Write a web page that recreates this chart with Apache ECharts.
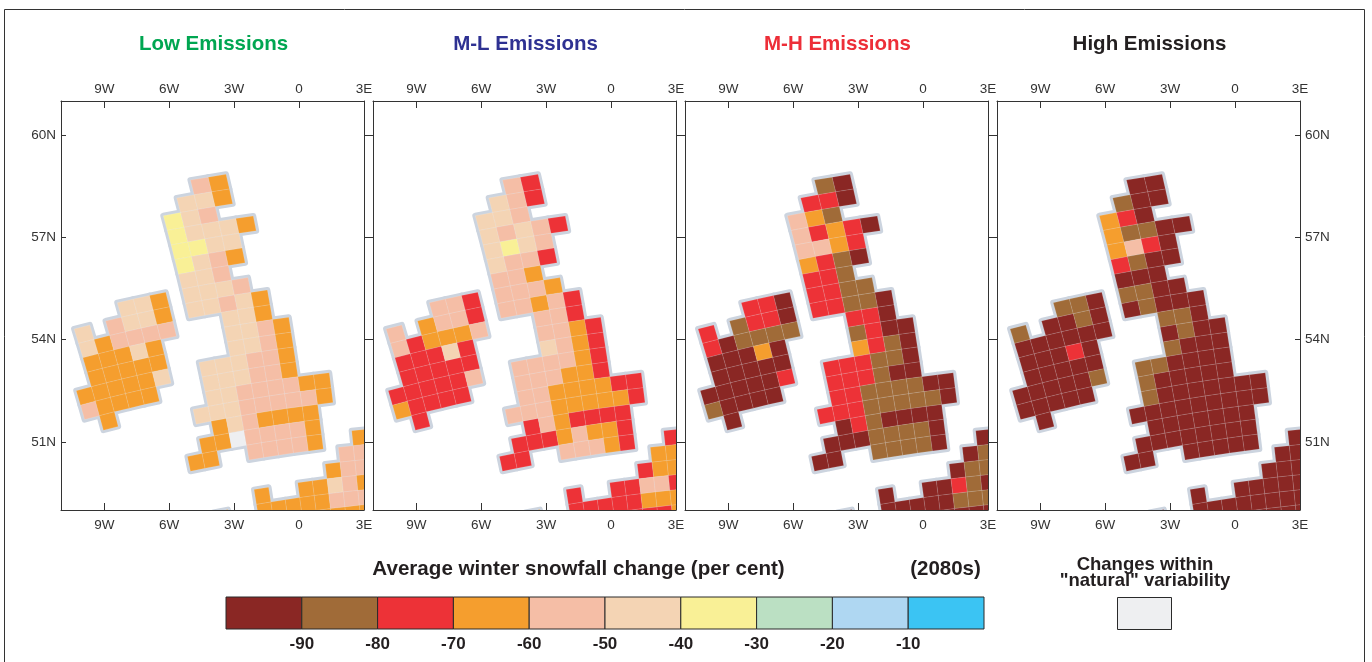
<!DOCTYPE html>
<html><head><meta charset="utf-8">
<style>html,body{margin:0;padding:0;background:#fff}#c{width:1372px;height:662px}</style>
<script src="https://cdn.jsdelivr.net/npm/echarts@6/dist/echarts.min.js"></script>
</head><body><div id="c"></div>
<script>
// Percent-change bins, named by the colour they take in the key (bin mid-values)
const M=-95,B=-85,R=-75,O=-65,P=-55,K=-45,Y=-35,N=0,_=null;
const binEdges=[-100,-90,-80,-70,-60,-50,-40,-30,-20,-10,0];
const binColors=['#8a2724','#a06b38','#ed3237','#f59e2e','#f5bea6','#f4d4b4','#f9f096','#bbe0c3','#afd7f2','#3bc4f3'];
const naturalColor='#eeeff1';
const panelTitles=['Low Emissions','M-L Emissions','M-H Emissions','High Emissions'];
const titleColors=['#00a651','#2e3192','#ed2e38','#231f20'];
const lonTicks=[-9,-6,-3,0,3];
const latTicks=[51,54,57,60];
// rows: [grid row, first grid column, values...]
const lowEmissions=[[0,0,P,O],[1,-1,K,K,O],[2,-2,Y,K,P],[3,-2,Y,K,K,K,O],[4,-2,Y,Y,K,K],[5,-2,Y,K,P,O],[6,-2,K,K,P],
[7,-6,K,K,O,_,K,K,K,P],[8,-9,K,_,P,K,K,O,_,K,K,P,K,O],[9,-9,K,O,P,P,P,P,_,_,_,K,K,O],[10,-9,O,O,O,K,O,_,_,_,_,K,K,P,O],
[11,-9,O,O,O,O,O,_,_,_,_,K,K,P,O],[12,-10,O,O,O,O,O,K,_,_,K,K,K,P,P,O],[13,-10,P,O,O,O,O,_,_,_,K,K,K,P,P,O],
[14,-9,O,_,_,_,_,_,_,K,K,P,P,P,P,O,O],[15,-3,K,K,K,P,P,P,P,P,O],[16,-2,O,K,P,O,O,O,O],[17,-3,O,O,N,P,P,P,P,O],
[18,-4,O,O,_,_,P,P,P,P,O,_,_,O],[19,6,P,P],[20,5,O,P,P],[21,0,O,_,_,O,O,K,P,O],[22,-3,O,_,_,O,O,O,O,O,P,P,P],[23,2,K,K,O,O,O,O]];
const mlEmissions=[[0,0,P,R],[1,-1,K,P,R],[2,-2,K,K,P],[3,-2,K,P,K,P,R],[4,-2,K,Y,K,P],[5,-2,K,P,P,R],[6,-2,P,P,O],
[7,-6,P,P,R,_,P,P,P,O],[8,-9,P,_,O,P,P,R,_,P,P,O,P,R],[9,-9,P,R,O,O,O,P,_,_,_,P,P,R],[10,-9,R,R,R,K,R,_,_,_,_,P,P,O,R],
[11,-9,R,R,R,R,R,_,_,_,_,K,P,O,R],[12,-10,R,R,R,R,R,P,_,_,P,P,P,P,O,R],[13,-10,O,R,R,R,R,_,_,_,P,P,P,O,O,R],
[14,-9,R,_,_,_,_,_,_,P,P,O,O,O,O,R,R],[15,-3,P,P,P,O,O,O,O,O,R],[16,-2,R,P,O,R,R,R,R],[17,-3,R,R,R,O,P,O,O,R],
[18,-4,R,R,_,_,P,P,P,O,R,_,_,R],[19,6,O,O],[20,5,R,O,O],[21,0,R,_,_,R,R,P,P,R],[22,-3,O,_,_,R,R,R,R,R,O,O,O],[23,2,P,P,R,R,R,O]];
const mhEmissions=[[0,0,B,M],[1,-1,R,R,M],[2,-2,P,O,B],[3,-2,P,R,O,R,M],[4,-2,P,P,O,R],[5,-2,O,R,B,M],[6,-2,R,R,B],
[7,-6,R,R,M,_,R,R,B,B],[8,-9,R,_,B,R,R,M,_,R,R,B,B,M],[9,-9,R,M,B,B,B,B,_,_,_,R,R,M],[10,-9,M,M,M,O,M,_,_,_,_,B,R,M,M],
[11,-9,M,M,M,M,M,_,_,_,_,O,R,B,M],[12,-10,M,M,M,M,M,R,_,_,R,R,R,B,B,M],[13,-10,B,M,M,M,M,_,_,_,R,R,R,B,M,M],
[14,-9,M,_,_,_,_,_,_,R,R,B,B,B,B,M,M],[15,-3,R,R,R,B,B,B,B,B,M],[16,-2,M,R,B,M,M,M,M],[17,-3,M,M,M,B,B,B,B,M],
[18,-4,M,M,_,_,B,B,B,B,M,_,_,M],[19,6,M,B],[20,5,M,B,B],[21,0,M,_,_,M,M,R,B,M],[22,-3,M,_,_,M,M,M,M,M,B,B,B],[23,2,R,R,M,M,M,M]];
const highEmissions=[[0,0,M,M],[1,-1,B,M,M],[2,-2,O,R,M],[3,-2,O,B,B,M,M],[4,-2,O,P,R,M],[5,-2,R,B,M,M],[6,-2,M,M,M],
[7,-6,B,B,M,_,B,B,M,M],[8,-9,B,_,M,M,B,M,_,M,B,M,M,M],[9,-9,M,M,M,M,M,M,_,_,_,B,B,M],[10,-9,M,M,M,R,M,_,_,_,_,M,B,M,M],
[11,-9,M,M,M,M,M,_,_,_,_,B,M,M,M],[12,-10,M,M,M,M,M,B,_,_,B,B,M,M,M,M],[13,-10,M,M,M,M,M,_,_,_,B,M,M,M,M,M],
[14,-9,M,_,_,_,_,_,_,B,M,M,M,M,M,M,M],[15,-3,M,M,M,M,M,M,M,M,M],[16,-2,M,M,M,M,M,M,M],[17,-3,M,M,M,M,M,M,M,M],
[18,-4,M,M,_,_,M,M,M,M,M,_,_,M],[19,6,M,M],[20,5,M,M,M],[21,0,M,_,_,M,M,M,M,M],[22,-3,M,_,_,M,M,M,M,M,M,M,M],[23,2,M,M,M,M,M,M]];
const panels=[lowEmissions,mlEmissions,mhEmissions,highEmissions];

// Rotated-pole model grid: turns (row, column) into lon/lat for the map axes
const rad=Math.PI/180, poleLat=39.25*rad, centreLon=10.3*rad, cellDeg=0.44;
const anchorLon=-3.156, anchorLat=54.62, anchorRow=9, anchorCol=0;
function geoToRot(lon,lat){const l=lon*rad-centreLon,p=lat*rad;
  return [Math.atan2(Math.cos(p)*Math.sin(l),Math.sin(poleLat)*Math.cos(p)*Math.cos(l)+Math.cos(poleLat)*Math.sin(p))/rad,
          Math.asin(Math.sin(poleLat)*Math.sin(p)-Math.cos(poleLat)*Math.cos(p)*Math.cos(l))/rad];}
function rotToGeo(rl,rp){const l=rl*rad,p=rp*rad;
  return [(centreLon+Math.atan2(Math.cos(p)*Math.sin(l),Math.sin(poleLat)*Math.cos(p)*Math.cos(l)-Math.cos(poleLat)*Math.sin(p)))/rad,
          Math.asin(Math.sin(poleLat)*Math.sin(p)+Math.cos(poleLat)*Math.cos(p)*Math.cos(l))/rad];}
const anchor=geoToRot(anchorLon,anchorLat);
function cellCorners(r,c){const x=anchor[0]+(c-anchorCol)*cellDeg,y=anchor[1]-(r-anchorRow)*cellDeg,h=cellDeg/2;
  return [[x-h,y+h],[x+h,y+h],[x+h,y-h],[x-h,y-h]].map(q=>rotToGeo(q[0],q[1]));}
function colorOf(v){if(v===N)return naturalColor;for(let i=0;i<10;i++)if(v<binEdges[i+1])return binColors[i];return naturalColor;}
function flatten(rows){const out=[];rows.forEach(row=>{row.slice(2).forEach((v,i)=>{if(v!==null)out.push([row[0],row[1]+i,v]);});});return out;}

const font='"Liberation Sans",Arial,sans-serif', ink='#333';
const grids=[],xAxes=[],yAxes=[],series=[];
const fmtLon=v=>v===0?'0':(v<0?(-v)+'W':v+'E'), fmtLat=v=>v+'N';
panels.forEach((rows,i)=>{
  grids.push({left:61+312*i,top:101,width:303,height:409,show:false});
  const ax=(pos)=>({type:'value',gridIndex:i,position:pos,min:-11,max:3,splitLine:{show:false},
    axisLine:{show:true,onZero:false,lineStyle:{color:ink,width:1}},
    axisTick:{show:true,inside:true,length:7,lineStyle:{color:ink,width:1},customValues:lonTicks},
    axisLabel:{show:true,inside:false,margin:pos==='top'?5:8,color:ink,fontFamily:font,fontSize:13.5,formatter:fmtLon,customValues:lonTicks,hideOverlap:false}});
  xAxes.push(ax('bottom'),ax('top'));
  const ay=(pos,labels,ticks,inside)=>({type:'value',gridIndex:i,position:pos,min:49,max:61,splitLine:{show:false},
    axisLine:{show:true,onZero:false,lineStyle:{color:ink,width:1}},
    axisTick:{show:ticks,inside:inside,length:inside?5:9,lineStyle:{color:ink,width:1},customValues:latTicks},
    axisLabel:{show:labels,margin:5,color:ink,fontFamily:font,fontSize:13.5,formatter:fmtLat,customValues:latTicks}});
  yAxes.push(ay('left',i===0,i===0,true), ay('right',i===3,true,i===3));
  const data=flatten(rows);
  const base={type:'custom',xAxisIndex:i*2,yAxisIndex:i*2,clip:true,data:data,silent:true,animation:false,encode:{x:1,y:0}};
  const shape=(api)=>cellCorners(api.value(0),api.value(1)).map(q=>api.coord(q));
  series.push(Object.assign({},base,{z:2,renderItem:(p,api)=>({type:'polygon',shape:{points:shape(api)},
    style:{fill:'#ccd4df',stroke:'#ccd4df',lineWidth:6,lineJoin:'round'}})}));
  series.push(Object.assign({},base,{z:3,renderItem:(p,api)=>({type:'polygon',shape:{points:shape(api)},
    style:{fill:colorOf(api.value(2)),stroke:'rgba(255,255,255,0.22)',lineWidth:0.5}})}));
});
// colour key
const keyIdx=panels.length;
grids.push({left:226,top:597,width:758,height:32,show:false});
xAxes.push({type:'value',gridIndex:keyIdx,min:-100,max:0,interval:10,splitLine:{show:false},axisLine:{show:false},axisTick:{show:false},
  axisLabel:{show:true,margin:7,color:'#231f20',fontFamily:font,fontWeight:'bold',fontSize:17,showMinLabel:false,showMaxLabel:false}});
yAxes.push({type:'value',gridIndex:keyIdx,min:0,max:1,show:false});
series.push({type:'custom',xAxisIndex:keyIdx*2,yAxisIndex:keyIdx*2,silent:true,animation:false,
  data:binColors.map((col,i)=>[binEdges[i],binEdges[i+1],i]),encode:{x:[0,1]},
  renderItem:(p,api)=>{const a=api.coord([api.value(0),0]),b=api.coord([api.value(1),1]);
    return {type:'rect',shape:{x:a[0],y:b[1],width:b[0]-a[0],height:a[1]-b[1]},style:{fill:binColors[api.value(2)],stroke:'#2a2a2a',lineWidth:1}};}});

const heading=(text,x,y,size,color)=>({text:text,left:x,top:y,textAlign:'center',textVerticalAlign:'middle',padding:0,
  textStyle:{fontFamily:font,fontWeight:'bold',fontSize:size,color:color||'#231f20'}});
const titles=panelTitles.map((t,i)=>heading(t,213.5+312*i,44,20.5,titleColors[i]));
titles.push(heading('Average winter snowfall change (per cent)',578.5,569,20.6));
titles.push(heading('(2080s)',945.5,569,20.5));
titles.push(heading('Changes within',1145,565,18.5));
titles.push(heading('"natural" variability',1145,581,18.5));

const chart=echarts.init(document.getElementById('c'),null,{renderer:'canvas'});
chart.setOption({animation:false,backgroundColor:'#fff',title:titles,grid:grids,xAxis:xAxes,yAxis:yAxes,series:series,
  graphic:[
   {type:'rect',z:0,silent:true,shape:{x:4.5,y:9.5,width:1360,height:700},style:{fill:'none',stroke:'#333',lineWidth:1}},
   {type:'rect',z:5,silent:true,shape:{x:1117.5,y:597.5,width:54,height:32},style:{fill:naturalColor,stroke:'#2a2a2a',lineWidth:1}}
  ]});
</script></body></html>
